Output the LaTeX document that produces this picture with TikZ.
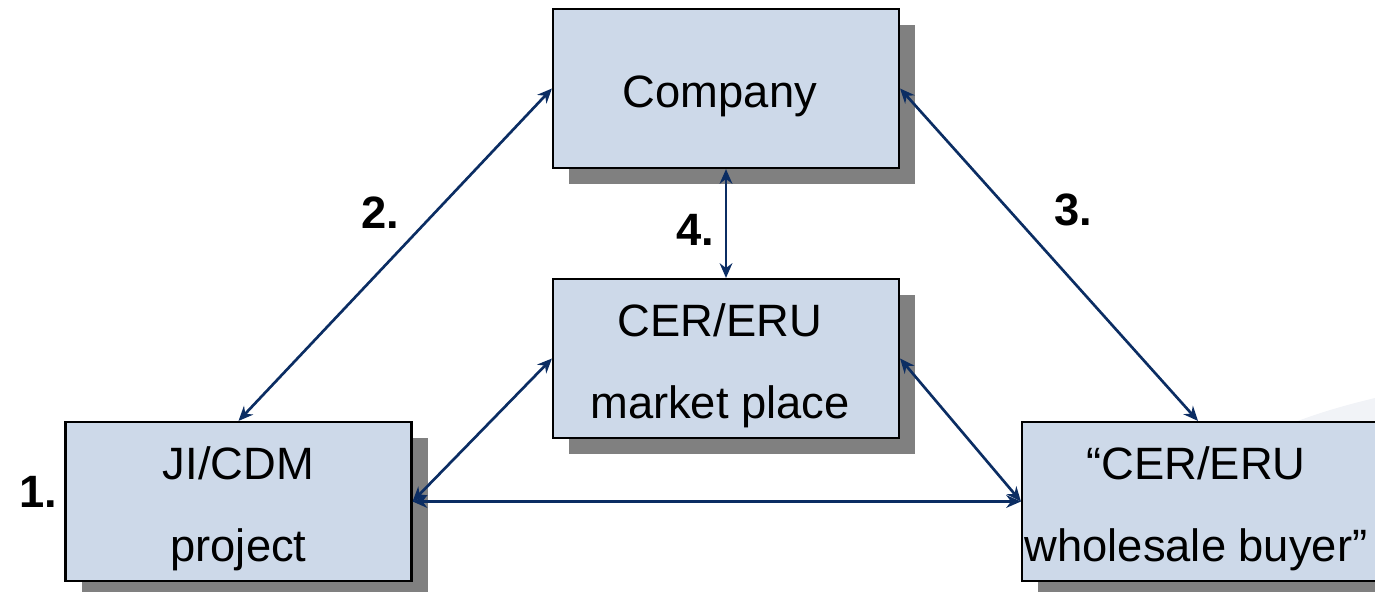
\documentclass[tikz,border=0pt]{standalone}
\usepackage{fontspec}
\setmainfont{Liberation Sans}
\usetikzlibrary{arrows.meta,shadows}
\definecolor{boxfill}{HTML}{CDD9E9}
\definecolor{shadowgray}{HTML}{808080}
\definecolor{navy}{HTML}{0B2D63}
\definecolor{faint}{HTML}{F1F3F7}
\begin{document}
\begin{tikzpicture}[x=0.75pt,y=-0.75pt,
  box/.style={draw=black, line width=1.6pt, fill=boxfill,
    minimum width=259.5pt, minimum height=119.25pt, inner sep=0pt,
    general shadow={fill=shadowgray, shadow xshift=12pt, shadow yshift=-12pt}},
  boxtext/.style={align=center, font=\fontsize{34}{61.5}\selectfont, inner sep=0pt},
  conn/.style={draw=navy, line width=2pt, {Stealth[length=11pt,width=9.5pt]}-{Stealth[length=11pt,width=9.5pt]}},
  num/.style={font=\fontsize{34}{40}\selectfont\bfseries}
]
\useasboundingbox (0,0) rectangle (1375,592);
% faint background swoosh
\fill[faint] (1290,424) .. controls (1320,412) and (1350,404) .. (1375,398) -- (1375,430) -- cycle;
\node[box] (company) at (726,88.5) {};
\node[box] (market) at (726,358.5) {};
\node[box] (ji) at (238.5,501.5) {};
\node[box, minimum width=270pt] (buyer) at (1202,501.5) {};
\node[boxtext] (tcompany) at (720,96) {Company};
\node[boxtext] (tmarket) at (720,366) {CER/ERU\\market place};
\node[boxtext] (tji) at (238.5,509) {JI/CDM\\project};
\node[boxtext] (tbuyer) at (1196,509) {“CER/ERU\\wholesale buyer”};
\draw[conn] (company.west) -- (ji.north);
\draw[conn] (company.east) -- (buyer.north -| 1198,0);
\draw[conn] (company.south) -- (market.north);
\draw[conn] (market.west) -- (ji.east);
\draw[conn] (market.east) -- (buyer.west);
\draw[conn] (ji.east) -- (buyer.west);
\node[num] (n1) at (38,492) {1.};
\node[num] (n2) at (380,213) {2.};
\node[num] (n3) at (1073,210) {3.};
\node[num] (n4) at (695,230) {4.};
\end{tikzpicture}
\end{document}
